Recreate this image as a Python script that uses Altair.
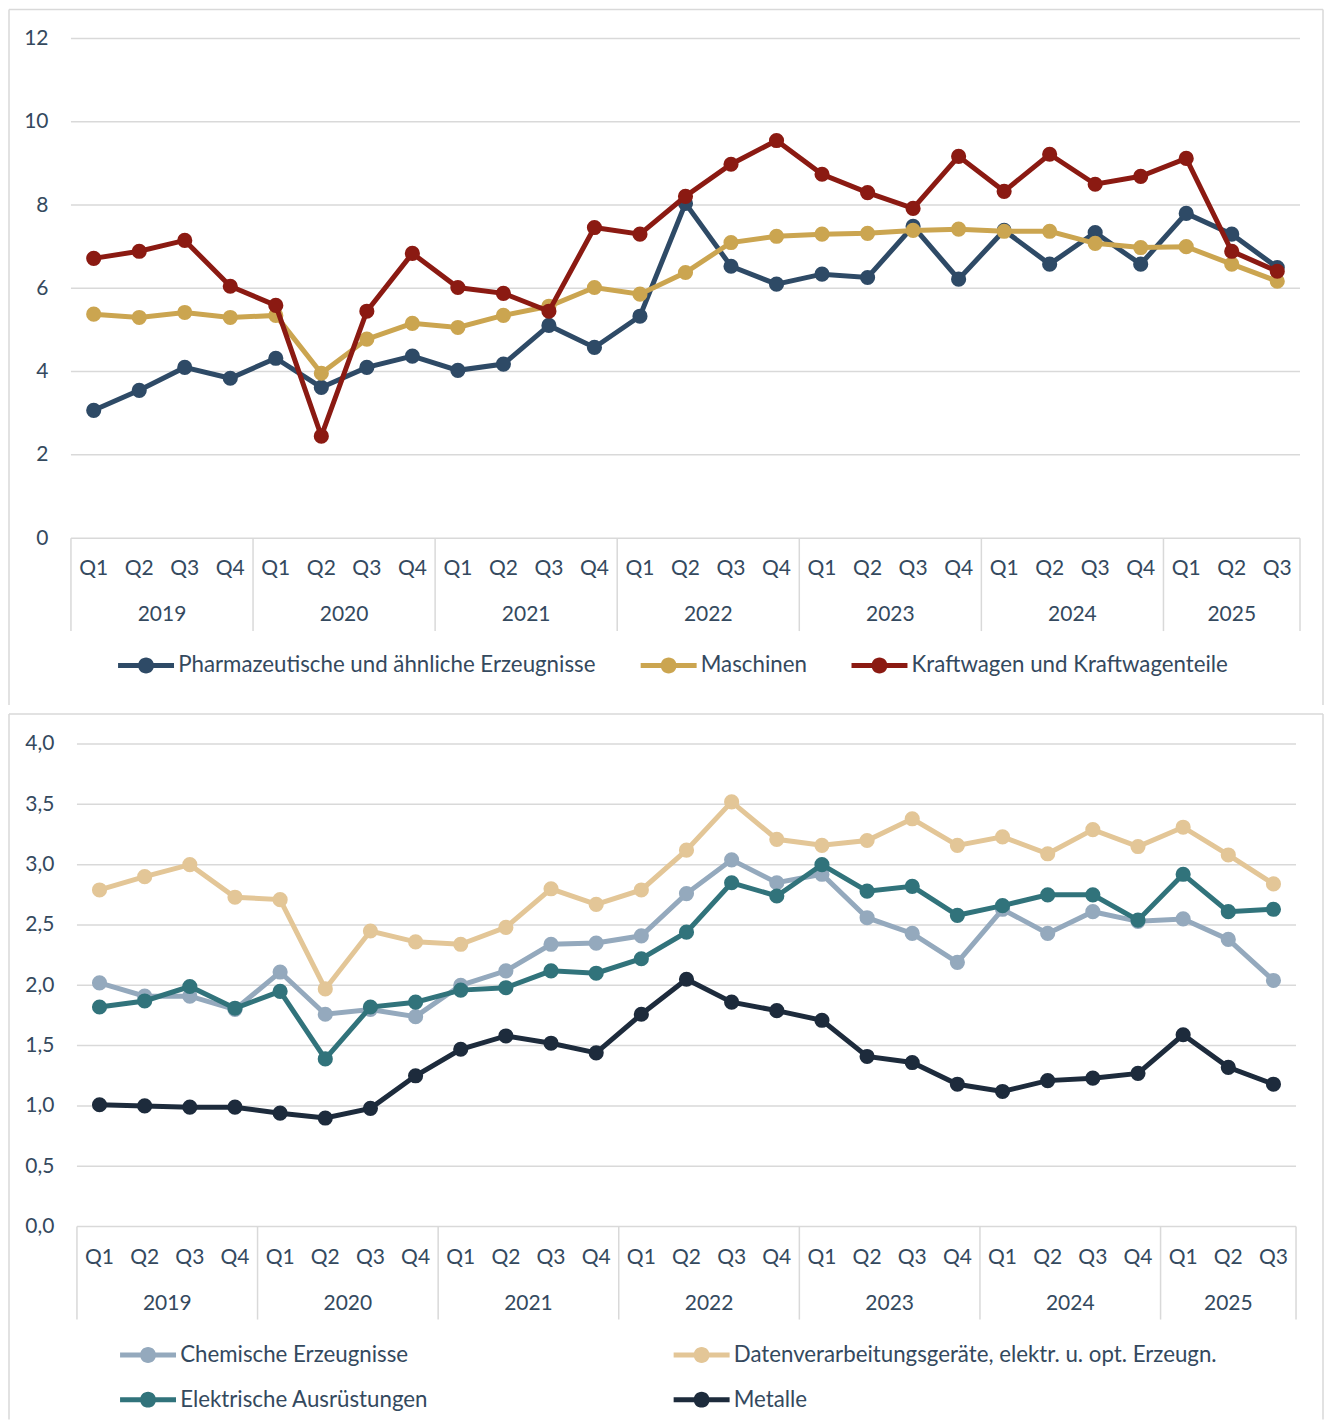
import altair as alt
import pandas as pd

# ---------------- data ----------------
quarters = ["Q1", "Q2", "Q3", "Q4"]
years = ["2019", "2020", "2021", "2022", "2023", "2024", "2025"]
quarters_per_year = [4, 4, 4, 4, 4, 4, 3]

top_names = ["Pharmazeutische und ähnliche Erzeugnisse", "Maschinen",
             "Kraftwagen und Kraftwagenteile"]
top_colors = ["#2E4A66", "#CBA550", "#8B1A12"]

pharma = [3.07, 3.55, 4.10, 3.84, 4.32, 3.62, 4.10, 4.37, 4.03, 4.18, 5.11, 4.58,
          5.33, 8.04, 6.53, 6.10, 6.34, 6.26, 7.49, 6.22, 7.39, 6.58, 7.34, 6.58,
          7.80, 7.30, 6.50]
maschinen = [5.38, 5.30, 5.42, 5.30, 5.35, 3.96, 4.78, 5.16, 5.06, 5.35, 5.57, 6.02,
             5.86, 6.38, 7.10, 7.25, 7.30, 7.32, 7.39, 7.42, 7.37, 7.37, 7.08, 6.98,
             7.00, 6.58, 6.17]
kraftwagen = [6.72, 6.89, 7.15, 6.05, 5.59, 2.45, 5.45, 6.84, 6.02, 5.88, 5.45, 7.46,
              7.30, 8.21, 8.98, 9.55, 8.74, 8.30, 7.92, 9.17, 8.33, 9.22, 8.50, 8.69,
              9.12, 6.89, 6.41]

bottom_names = ["Chemische Erzeugnisse",
                "Datenverarbeitungsgeräte, elektr. u. opt. Erzeugn.",
                "Elektrische Ausrüstungen", "Metalle"]
bottom_colors = ["#94A9BD", "#E3C697", "#31737B", "#1D2B3C"]

chemie = [2.02, 1.91, 1.91, 1.80, 2.11, 1.76, 1.80, 1.74, 2.00, 2.12, 2.34, 2.35,
          2.41, 2.76, 3.04, 2.85, 2.92, 2.56, 2.43, 2.19, 2.63, 2.43, 2.61, 2.53,
          2.55, 2.38, 2.04]
daten = [2.79, 2.90, 3.00, 2.73, 2.71, 1.97, 2.45, 2.36, 2.34, 2.48, 2.80, 2.67,
         2.79, 3.12, 3.52, 3.21, 3.16, 3.20, 3.38, 3.16, 3.23, 3.09, 3.29, 3.15,
         3.31, 3.08, 2.84]
elektro = [1.82, 1.87, 1.99, 1.81, 1.95, 1.39, 1.82, 1.86, 1.96, 1.98, 2.12, 2.10,
           2.22, 2.44, 2.85, 2.74, 3.00, 2.78, 2.82, 2.58, 2.66, 2.75, 2.75, 2.54,
           2.92, 2.61, 2.63]
metalle = [1.01, 1.00, 0.99, 0.99, 0.94, 0.90, 0.98, 1.25, 1.47, 1.58, 1.52, 1.44,
           1.76, 2.05, 1.86, 1.79, 1.71, 1.41, 1.36, 1.18, 1.12, 1.21, 1.23, 1.27,
           1.59, 1.32, 1.18]

top_ticks = [0, 2, 4, 6, 8, 10, 12]
bottom_ticks = [0, 0.5, 1, 1.5, 2, 2.5, 3, 3.5, 4]

# ---------------- derived tables ----------------
q_rows, y_rows, seps = [], [], [-0.5]
i = 0
for yr, n in zip(years, quarters_per_year):
    start = i
    for k in range(n):
        q_rows.append({"idx": i, "q": quarters[k]})
        i += 1
    y_rows.append({"mid": (start + i - 1) / 2, "year": yr})
    seps.append(i - 0.5)
n_pts = i
q_df = pd.DataFrame(q_rows)
y_df = pd.DataFrame(y_rows)
sep_df = pd.DataFrame({"b": seps})

FONT = "Lato"
TXT = "#34495E"
GRID = "#D9D9D9"
AX_FS = 21
LEG_FS = 22.3
# legend symbol (unit = 8 px): line from 0..56 px with a circle in the middle
SYM = ("M-1,-0.3125L6,-0.3125L6,0.3125L-1,0.3125Z "
       "M1.5,0A1,1 0 1,1 3.5,0A1,1 0 1,1 1.5,0Z")


def panel(names, colors, series, W, x_off, H, yvals, ymax, label_expr, legend_kw,
          border):
    xsc = alt.Scale(domain=[-0.5, n_pts - 0.5], nice=False, zero=False,
                    range=[x_off, x_off + W])
    ysc = alt.Scale(domain=[0, ymax], nice=False, zero=True)
    yaxis = alt.Axis(values=yvals, grid=False, domain=False, ticks=False,
                     labelFontSize=AX_FS, labelFont=FONT, labelColor=TXT,
                     labelPadding=23 - x_off, title=None, labelExpr=label_expr)
    bx0, bx1, by0, by1 = border
    bdf = pd.DataFrame({"x1": [bx0, bx1, bx0], "x2": [bx0, bx1, bx1],
                        "y1": [by0, by0, by0], "y2": [by1, by1, by0]})
    bord = alt.Chart(bdf).mark_rule(color=GRID, strokeWidth=1.5).encode(
        x=alt.X("x1:Q", scale=None), x2="x2:Q",
        y=alt.Y("y1:Q", scale=None), y2="y2:Q")

    grid = alt.Chart(pd.DataFrame({"v": yvals})).mark_rule(
        color=GRID, strokeWidth=1.5).encode(
        y=alt.Y("v:Q", scale=ysc, axis=yaxis),
        x=alt.value(x_off), x2=alt.value(x_off + W))

    seps_l = alt.Chart(sep_df).mark_rule(color=GRID, strokeWidth=1.5).encode(
        x=alt.X("b:Q", scale=xsc, axis=None),
        y=alt.value(H), y2=alt.value(H + 93))
    qtxt = alt.Chart(q_df).mark_text(font=FONT, fontSize=AX_FS, color=TXT,
                                     baseline="middle").encode(
        x=alt.X("idx:Q", scale=xsc, axis=None), y=alt.value(H + 31), text="q:N")
    ytxt = alt.Chart(y_df).mark_text(font=FONT, fontSize=AX_FS, color=TXT,
                                     baseline="middle").encode(
        x=alt.X("mid:Q", scale=xsc, axis=None), y=alt.value(H + 77),
        text="year:N")

    layers = [bord, grid, seps_l, qtxt, ytxt]
    for nm, col, vals in zip(names, colors, series):
        d = pd.DataFrame({"idx": list(range(n_pts)), "value": vals, "series": nm})
        ln = alt.Chart(d).mark_line(color=col, strokeWidth=5).encode(
            x=alt.X("idx:Q", scale=xsc, axis=None),
            y=alt.Y("value:Q", scale=ysc, axis=yaxis))
        pt = alt.Chart(d).mark_point(filled=True, size=230, opacity=1).encode(
            x=alt.X("idx:Q", scale=xsc, axis=None),
            y=alt.Y("value:Q", scale=ysc, axis=yaxis),
            color=alt.Color("series:N",
                            scale=alt.Scale(domain=names, range=colors),
                            legend=alt.Legend(title=None, orient="none",
                                              symbolType=SYM, symbolSize=256,
                                              symbolStrokeWidth=0, symbolOpacity=1,
                                              labelFont=FONT, labelFontSize=LEG_FS,
                                              labelColor=TXT, labelOffset=41,
                                              labelLimit=0, **legend_kw)))
        layers += [ln, pt]
    return alt.layer(*layers).properties(width=x_off + W, height=H)


# common origin for both panels: page x = 70
top = panel(top_names, top_colors, [pharma, maschinen, kraftwagen], 1230, 0, 500,
            top_ticks, 12, "datum.label",
            dict(legendX=44, legendY=616, direction="horizontal",
                 columnPadding=41),
            (-62, 1253, -29, 667))

bottom = panel(bottom_names, bottom_colors, [chemie, daten, elektro, metalle],
               1220, 6, 483, bottom_ticks, 4,
               "replace(format(datum.value, '.1f'), '.', ',')",
               dict(legendX=46, legendY=600, direction="horizontal", columns=2,
                    columnPadding=242, rowPadding=22),
               (-62, 1253, -30, 676))

chart = alt.vconcat(top, bottom, spacing=7).properties(padding=0).configure_view(
    stroke=None).resolve_scale(color="independent", y="independent",
                               x="independent")

chart.save("out.html", embed_options={"renderer": "svg", "actions": False})
